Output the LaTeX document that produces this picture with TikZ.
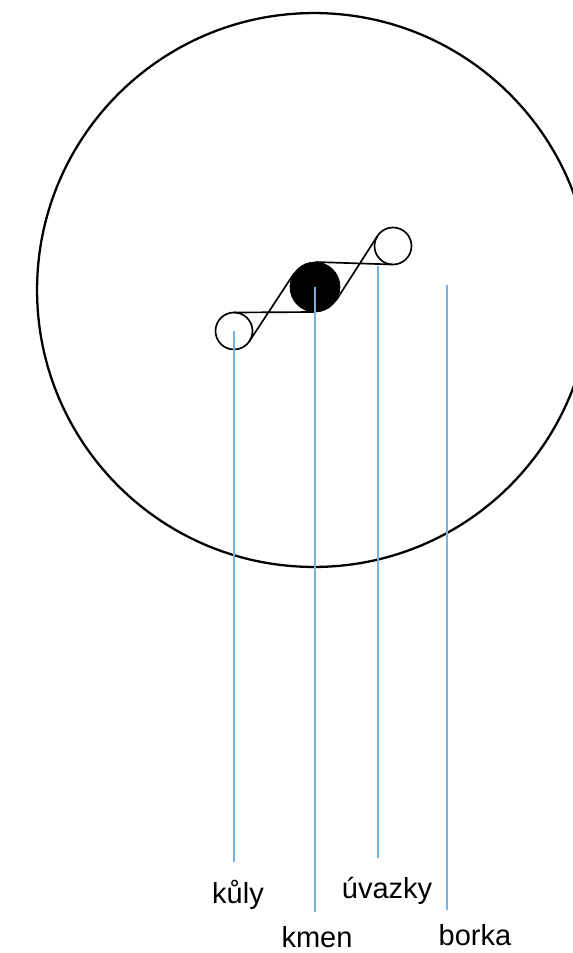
\documentclass[tikz,border=0pt]{standalone}
\usepackage{fontspec}
\setmainfont{Liberation Sans}
\usetikzlibrary{calc}
\definecolor{leaderblue}{RGB}{120,175,228}

\begin{document}
\begin{tikzpicture}[
	x=0.02cm, y=-0.02cm,
	stake/.style={ circle, draw, line width=0.95pt, inner sep=0pt, outer sep=0pt, minimum size=0.74cm },
	trunk/.style={ circle, draw, fill, inner sep=0pt, outer sep=0pt, minimum size=1cm },
	rope/.style={ line width=0.95pt },
	leader/.style={ leaderblue, line width=1.05pt },
	tag/.style={ anchor=base, inner sep=0pt, font=\fontsize{16.5}{20}\selectfont }
]

\useasboundingbox (0,0) rectangle (573,953);

\node[circle, draw, line width=1.3pt, inner sep=0pt, minimum size=11.08cm] at (314,290) (bark) {};

\begin{scope}
	\node[stake] at (234,331) (kul1) {};
	\node[trunk] at (315,287) (kmen) {};
	\node[stake] at (393,246) (kul2) {};
	% crossing points of the ropes
	\coordinate (x1) at ($(kul1)!18.5/43.5!(kmen)$);
	\coordinate (x2) at ($(kmen)!25/43.5!(kul2)$);
	\draw[rope]
	  (tangent cs:node=kul1,point={(x1)},solution=1) to (tangent cs:node=kmen,point={(x1)},solution=1)
	  (tangent cs:node=kul1,point={(x1)},solution=2) to (tangent cs:node=kmen,point={(x1)},solution=2)
	  (tangent cs:node=kmen,point={(x2)},solution=1) to (tangent cs:node=kul2,point={(x2)},solution=1)
	  (tangent cs:node=kmen,point={(x2)},solution=2) to (tangent cs:node=kul2,point={(x2)},solution=2);
\end{scope}

\node[tag] at (238,903) (tkuly) {kůly};
\node[tag] at (317,947) (tkmen) {kmen};
\node[tag] at (387,898) (tuvazky) {úvazky};
\node[tag] at (475,945) (tborka) {borka};

\coordinate (uvazek) at (378,266);
\coordinate (borka) at (447,285);
\coordinate (kulyend) at (234,862);
\coordinate (kmenend) at (315,912);
\coordinate (uvazkyend) at (378,858);
\coordinate (borkaend) at (447,910);

\draw[leader] (kul1.center) to (kulyend);
\draw[leader] (kmen.center) to (kmenend);
\draw[leader] (uvazek) to (uvazkyend);
\draw[leader] (borka) to (borkaend);

\end{tikzpicture}
\end{document}
